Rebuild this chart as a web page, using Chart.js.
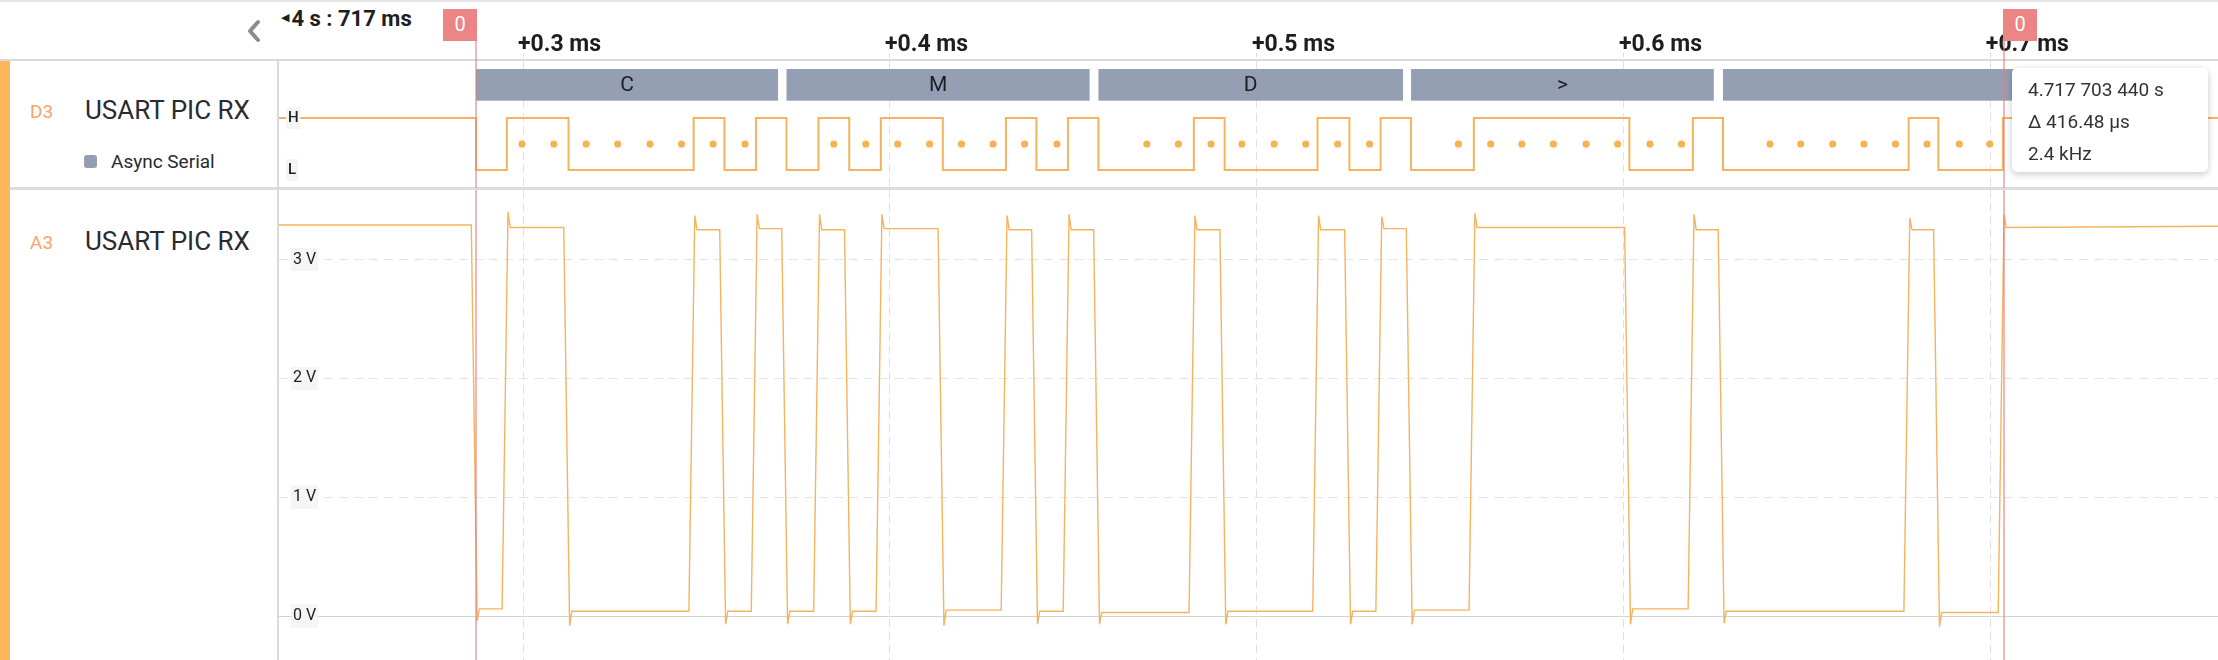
<!DOCTYPE html>
<html>
<head>
<meta charset="utf-8">
<title>USART PIC RX</title>
<script src="https://cdn.jsdelivr.net/npm/chart.js@4.4.1/dist/chart.umd.min.js"></script>
<style>
html, body { margin: 0; padding: 0; background: #fff; }
body { width: 2218px; height: 660px; position: relative; overflow: hidden; font-family: Roboto, "Noto Sans", sans-serif; color: #2c2c34; }
.abs { position: absolute; }
#topline { left: 0; top: 0; width: 2218px; height: 2px; background: #e6e6e6; }
#headline { left: 0; top: 59px; width: 2218px; height: 2px; background: #d9d9d9; }
#orange { left: 0; top: 61px; width: 10px; height: 599px; background: #ffb55c; }
#sepline { left: 10px; top: 187px; width: 2208px; height: 3px; background: #dcdcdc; }
#vline { left: 277px; top: 61px; width: 2px; height: 599px; background: #dadada; }
#digiBox { left: 279px; top: 0; width: 1939px; height: 188px; }
#anaBox { left: 279px; top: 190px; width: 1939px; height: 470px; }
.chan { color: #f3a66c; font-size: 19px; line-height: 24px; }
.name { font-size: 26px; line-height: 30px; font-weight: 400; color: #2a2a33; }
#legendSq { left: 84px; top: 155px; width: 13px; height: 13px; border-radius: 3px; background: #939eb3; }
#legendTxt { left: 111px; top: 150px; font-size: 19px; line-height: 24px; color: #2a2a33; }
#timeHdr { left: 281px; top: 5px; font-size: 22px; line-height: 26px; font-weight: 700; color: #1e1e1e; white-space: nowrap; }
#timeHdr .tri { font-size: 11px; vertical-align: 5px; font-family: "DejaVu Sans", sans-serif; margin-right: 2px; }
#chev { left: 244px; top: 19px; }
#tip { left: 2012px; top: 68px; width: 196px; height: 104px; box-sizing: border-box; padding: 6px 0 0 16px; background: #fff; border-radius: 5px; box-shadow: 0 2px 7px rgba(0,0,0,0.22); font-size: 19px; line-height: 32px; color: #333; white-space: nowrap; z-index: 5; }
</style>
</head>
<body>
<div class="abs" id="topline"></div>
<div class="abs" id="headline"></div>
<div class="abs" id="orange"></div>
<div class="abs" id="sepline"></div>
<div class="abs" id="vline"></div>

<svg class="abs" id="chev" width="22" height="24" viewBox="0 0 22 24"><polyline points="14,3 6,12 14,21" fill="none" stroke="#8c8c8c" stroke-width="4" stroke-linecap="round" stroke-linejoin="round"/></svg>
<div class="abs" id="timeHdr"><span class="tri">◀</span>4 s : 717 ms</div>

<div class="abs chan" style="left:30px; top:100px;">D3</div>
<div class="abs name" style="left:85px; top:95px;">USART PIC RX</div>
<div class="abs" id="legendSq"></div>
<div class="abs" id="legendTxt">Async Serial</div>

<div class="abs chan" style="left:30px; top:231px;">A3</div>
<div class="abs name" style="left:85px; top:226px;">USART PIC RX</div>

<div class="abs" id="digiBox"><canvas id="digital" width="1939" height="188"></canvas></div>
<div class="abs" id="anaBox"><canvas id="analog" width="1939" height="470"></canvas></div>

<div class="abs" id="tip">4.717 703 440 s<br>Δ 416.48 µs<br>2.4 kHz</div>

<script>
// time in µs after 4 s : 717 ms
const edgeTimesUs = [287.2, 295.6, 312.4, 346.5, 354.9, 363.5,
  371.8, 380.5, 388.9, 397.5, 414.4, 431.6, 439.9, 448.5,
  456.8, 482.8, 491.2, 516.5, 525.2, 533.7,
  542.0, 559.1, 601.5, 618.8,
  627.0, 677.6, 685.7, 703.3];
const digitalLevels = [0, 1, 0, 1, 0, 1,
  0, 1, 0, 1, 0, 1, 0, 1,
  0, 1, 0, 1, 0, 1,
  0, 1, 0, 1,
  0, 1, 0, 1];

// analog level (V) reached after each edge, and the spike at the edge
const analogStartV = 3.29;
const analogEndV = 3.28;
const analogSettledV = [0.06, 3.27, 0.04, 3.25, 0.04, 3.26,
  0.04, 3.25, 0.04, 3.26, 0.05, 3.25, 0.04, 3.25,
  0.03, 3.25, 0.04, 3.25, 0.04, 3.26,
  0.05, 3.27, 0.06, 3.25,
  0.04, 3.25, 0.03, 3.27];
const analogSpikeV = [-0.04, 3.40, -0.08, 3.37, -0.07, 3.38,
  -0.07, 3.38, -0.07, 3.38, -0.08, 3.37, -0.07, 3.38,
  -0.07, 3.37, -0.07, 3.37, -0.07, 3.36,
  -0.07, 3.39, -0.07, 3.38,
  -0.06, 3.35, -0.09, 3.38];

// decoded async serial frames
const frameLabels = ['C', 'M', 'D', '>', ' '];
const frameStartUs = [287.2, 371.8, 456.8, 542.0, 627.0];
const frameEndUs = [369.5, 454.4, 539.8, 624.5, 709.3];

// bit sample points
const sampleTimesUs = [299.7, 308.4, 317.2, 325.8, 334.6, 343.2, 351.8, 360.5,
  384.7, 393.4, 402.1, 410.8, 419.5, 428.1, 436.7, 445.5,
  470.0, 478.6, 487.5, 495.9, 504.7, 513.3, 522.0, 530.7,
  554.9, 563.7, 572.2, 580.8, 589.7, 598.3, 607.1, 615.7,
  639.8, 648.2, 656.9, 665.4, 674.0, 682.6, 691.4, 699.7];

const cursorTimesUs = [287.2, 703.7];
const voltTicks = [0, 1, 2, 3];

const xMin = 233.5, xMax = 761.9;
const ORANGE = '#f6b35e';

Chart.defaults.font.family = 'Roboto';

function noPad(s) { s.paddingLeft = 0; s.paddingRight = 0; s.paddingTop = 0; s.paddingBottom = 0; }

const digitalPoints = [{x: xMin, y: 1}]
  .concat(edgeTimesUs.map((t, i) => ({x: t, y: digitalLevels[i]})))
  .concat([{x: xMax, y: 1}]);

const analogPoints = [{x: xMin, y: analogStartV}];
edgeTimesUs.forEach((t, i) => {
  const prev = i === 0 ? analogStartV : analogSettledV[i - 1];
  analogPoints.push({x: t - 1.3, y: prev}, {x: t + 0.3, y: analogSpikeV[i]}, {x: t + 0.9, y: analogSettledV[i]});
});
analogPoints.push({x: xMax, y: analogEndV});

const framePlugin = {
  id: 'frames',
  beforeDatasetsDraw(chart) {
    const {ctx, scales: {x, y}} = chart;
    const top = y.getPixelForValue(1.942), bottom = y.getPixelForValue(1.333);
    ctx.save();
    frameLabels.forEach((lab, i) => {
      const x0 = x.getPixelForValue(frameStartUs[i]);
      const x1 = x.getPixelForValue(frameEndUs[i]);
      ctx.fillStyle = '#949fb4';
      ctx.fillRect(x0, top, x1 - x0, bottom - top);
      ctx.fillStyle = '#1c1c22';
      ctx.font = '21px Roboto';
      ctx.textAlign = 'center';
      ctx.textBaseline = 'middle';
      ctx.fillText(lab, (x0 + x1) / 2, (top + bottom) / 2 + 1);
    });
    ctx.restore();
  }
};

const cursorPlugin = {
  id: 'cursors',
  afterDraw(chart, args, opts) {
    const ctx = chart.ctx, x = chart.scales.x;
    ctx.save();
    cursorTimesUs.forEach((t, i) => {
      const px = Math.round(x.getPixelForValue(t));
      ctx.strokeStyle = 'rgba(234,120,120,0.55)';
      ctx.lineWidth = 2;
      ctx.beginPath();
      ctx.moveTo(px, opts.top);
      ctx.lineTo(px, chart.height);
      ctx.stroke();
      if (opts.flags) {
        const fx = i === 0 ? px - 33 : px - 1;
        ctx.fillStyle = '#ec8686';
        ctx.fillRect(fx, 9, 34, 32);
        ctx.fillStyle = '#fff';
        ctx.font = '20px Roboto';
        ctx.textAlign = 'center';
        ctx.textBaseline = 'middle';
        ctx.fillText('0', fx + 17, 26);
      }
    });
    ctx.restore();
  }
};

const zeroLinePlugin = {
  id: 'zeroLine',
  beforeDatasetsDraw(chart) {
    const {ctx, chartArea, scales: {y}} = chart;
    const py = Math.round(y.getPixelForValue(0)) + 0.5;
    ctx.save();
    ctx.strokeStyle = '#d4d4d4';
    ctx.lineWidth = 1;
    ctx.beginPath();
    ctx.moveTo(chartArea.left, py);
    ctx.lineTo(chartArea.right, py);
    ctx.stroke();
    ctx.restore();
  }
};

new Chart(document.getElementById('digital'), {
  type: 'line',
  data: {
    datasets: [
      { label: 'D3', data: digitalPoints, stepped: true, borderColor: ORANGE, borderWidth: 2, pointRadius: 0, fill: false },
      { label: 'samples', data: sampleTimesUs.map(t => ({x: t, y: 0.5})), showLine: false, pointRadius: 3.6,
        pointBackgroundColor: '#f8b155', pointBorderWidth: 0 }
    ]
  },
  options: {
    responsive: false, animation: false, events: [],
    layout: { padding: 0, autoPadding: false },
    plugins: { legend: { display: false }, tooltip: { enabled: false }, cursors: { top: 9, flags: true } },
    scales: {
      x: {
        type: 'linear', position: 'top', min: xMin, max: xMax,
        afterFit: s => { s.height = 61; noPad(s); },
        ticks: { stepSize: 100, includeBounds: false, align: 'start', labelOffset: -5, padding: -4, autoSkip: false, maxRotation: 0,
          color: '#1e1e1e', font: { size: 23, weight: 'bold', lineHeight: 1 },
          callback: v => '+' + (v / 1000).toFixed(1) + ' ms' },
        grid: { color: '#e2e2e2', lineWidth: 1, tickLength: 8, tickColor: '#d8d8d8', tickBorderDash: [4, 3] },
        border: { display: false, dash: [8, 5] }
      },
      y: {
        type: 'linear', position: 'left', min: -0.3462, max: 2.0962,
        afterFit: s => { s.width = 0; noPad(s); },
        afterBuildTicks: s => { s.ticks = [{value: 0}, {value: 1}]; },
        ticks: { z: 1, mirror: true, padding: 9, color: '#222', font: { size: 15, weight: '500' },
          callback: v => (v === 1 ? 'H' : 'L'),
          showLabelBackdrop: true, backdropColor: 'rgba(244,244,244,0.95)', backdropPadding: 2 },
        grid: { display: false },
        border: { display: false }
      }
    }
  },
  plugins: [framePlugin, cursorPlugin]
});

new Chart(document.getElementById('analog'), {
  type: 'line',
  data: {
    datasets: [
      { label: 'A3', data: analogPoints, borderColor: ORANGE, borderWidth: 1.4, pointRadius: 0, tension: 0, fill: false }
    ]
  },
  options: {
    responsive: false, animation: false, events: [],
    layout: { padding: 0, autoPadding: false },
    plugins: { legend: { display: false }, tooltip: { enabled: false }, cursors: { top: 0, flags: false } },
    scales: {
      x: {
        type: 'linear', position: 'bottom', min: xMin, max: xMax,
        afterFit: s => { s.height = 0; noPad(s); },
        ticks: { display: false, stepSize: 100, includeBounds: false },
        grid: { color: '#e0e0e0', drawTicks: false },
        border: { display: false, dash: [8, 5] }
      },
      y: {
        type: 'linear', position: 'left', min: -0.370, max: 3.585,
        afterFit: s => { s.width = 0; noPad(s); },
        afterBuildTicks: s => { s.ticks = voltTicks.map(v => ({value: v})); },
        ticks: { z: 1, mirror: true, padding: 14, color: '#222', font: { size: 16 },
          callback: v => v + ' V',
          showLabelBackdrop: true, backdropColor: 'rgba(244,244,244,0.9)', backdropPadding: 2 },
        grid: { color: '#e4e4e4', drawTicks: false },
        border: { display: false, dash: [9, 6] }
      }
    }
  },
  plugins: [zeroLinePlugin, cursorPlugin]
});
</script>
</body>
</html>
